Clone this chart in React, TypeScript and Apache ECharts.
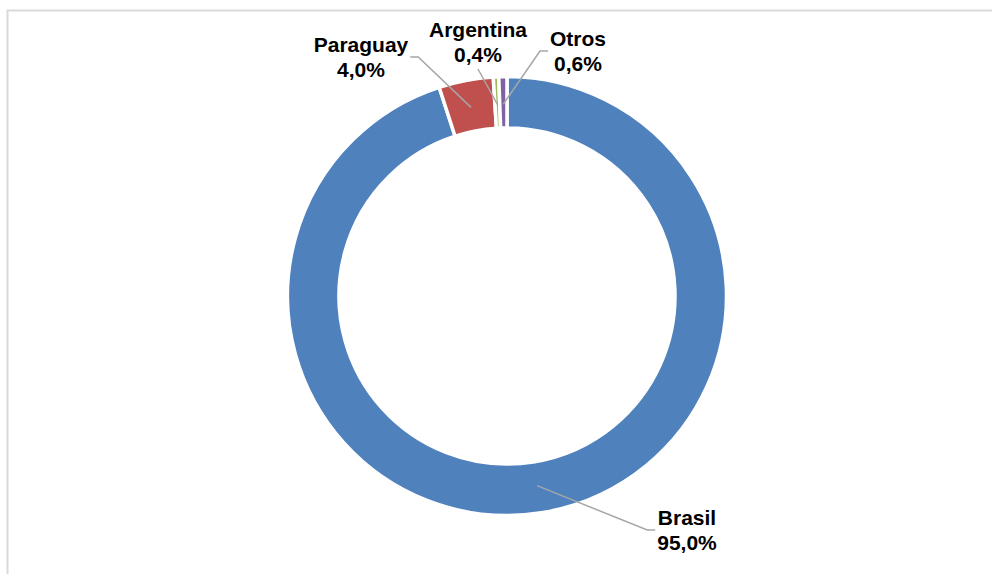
import React, { useEffect, useRef } from "react";
import * as echarts from "echarts";

const categories = ["Brasil", "Paraguay", "Argentina", "Otros"];
const shares = [95.0, 4.0, 0.4, 0.6];
const colors = ["#4F81BD", "#C0504D", "#9BBB59", "#8064A2"];

// label block centres (layout, not data)
const labelAnchors: Record<string, [number, number]> = {
  Brasil: [687, 530],
  Paraguay: [361, 57],
  Argentina: [478, 42],
  Otros: [578, 51],
};

const CENTER: [number, number] = [507, 296];
const ELBOW = 10;

export default function App() {
  const ref = useRef<HTMLDivElement>(null);
  useEffect(() => {
    if (!ref.current) return;
    const chart = echarts.init(ref.current, undefined, { renderer: "svg" });
    const data = categories.map((name, i) => ({
      name,
      value: shares[i],
      itemStyle: { color: colors[i] },
    }));
    const fmt = (p: any) =>
      p.name + "\n" + Number(p.value).toFixed(1).replace(".", ",") + "%";
    chart.setOption({
      animation: false,
      backgroundColor: "#ffffff",
      graphic: [
        {
          type: "rect",
          silent: true,
          shape: { x: 7.5, y: 10.5, width: 1100, height: 700 },
          style: { fill: "none", stroke: "#d9d9d9", lineWidth: 2 },
        },
      ],
      series: [
        {
          type: "pie",
          z: 2,
          center: CENTER,
          radius: [168, 219.5],
          startAngle: 90,
          clockwise: true,
          silent: true,
          label: { show: false },
          labelLine: { show: false },
          itemStyle: { borderColor: "#ffffff", borderWidth: 3.5 },
          emphasis: { disabled: true },
          data,
        },
        {
          type: "pie",
          z: 6,
          center: CENTER,
          radius: [0, 192],
          startAngle: 90,
          clockwise: true,
          silent: true,
          avoidLabelOverlap: false,
          emphasis: { disabled: true },
          itemStyle: { color: "rgba(0,0,0,0)", borderWidth: 0 },
          label: {
            show: true,
            formatter: fmt,
            color: "#000000",
            fontFamily: "Liberation Sans, Arial, sans-serif",
            fontWeight: "bold",
            fontSize: 21,
            lineHeight: 25,
          },
          labelLine: {
            show: true,
            length: 20,
            length2: 10,
            lineStyle: { color: "#a6a6a6", width: 1.5 },
          },
          labelLayout: (params: any) => {
            const name = categories[params.dataIndex];
            const [x, y] = labelAnchors[name];
            const w = params.labelRect.width;
            const h = params.labelRect.height;
            const start = params.labelLinePoints
              ? params.labelLinePoints[0]
              : [CENTER[0], CENTER[1]];
            let pts: number[][];
            if (x + w / 2 < start[0]) {
              pts = [start, [x + w / 2 + ELBOW, y], [x + w / 2 + 2, y]];
            } else if (x - w / 2 > start[0]) {
              pts = [start, [x - w / 2 - ELBOW, y], [x - w / 2 - 2, y]];
            } else {
              pts = [start, [x, y + h / 2 + 2]];
            }
            return {
              x,
              y,
              align: "center",
              verticalAlign: "middle",
              labelLinePoints: pts,
            };
          },
          data: categories.map((name, i) => ({
            name,
            value: shares[i],
            itemStyle: { color: "rgba(0,0,0,0)" },
          })),
        },
      ],
    });
    return () => chart.dispose();
  }, []);
  return (
    <div
      ref={ref}
      style={{ position: "absolute", left: 0, top: 0, width: 992, height: 574 }}
    />
  );
}
